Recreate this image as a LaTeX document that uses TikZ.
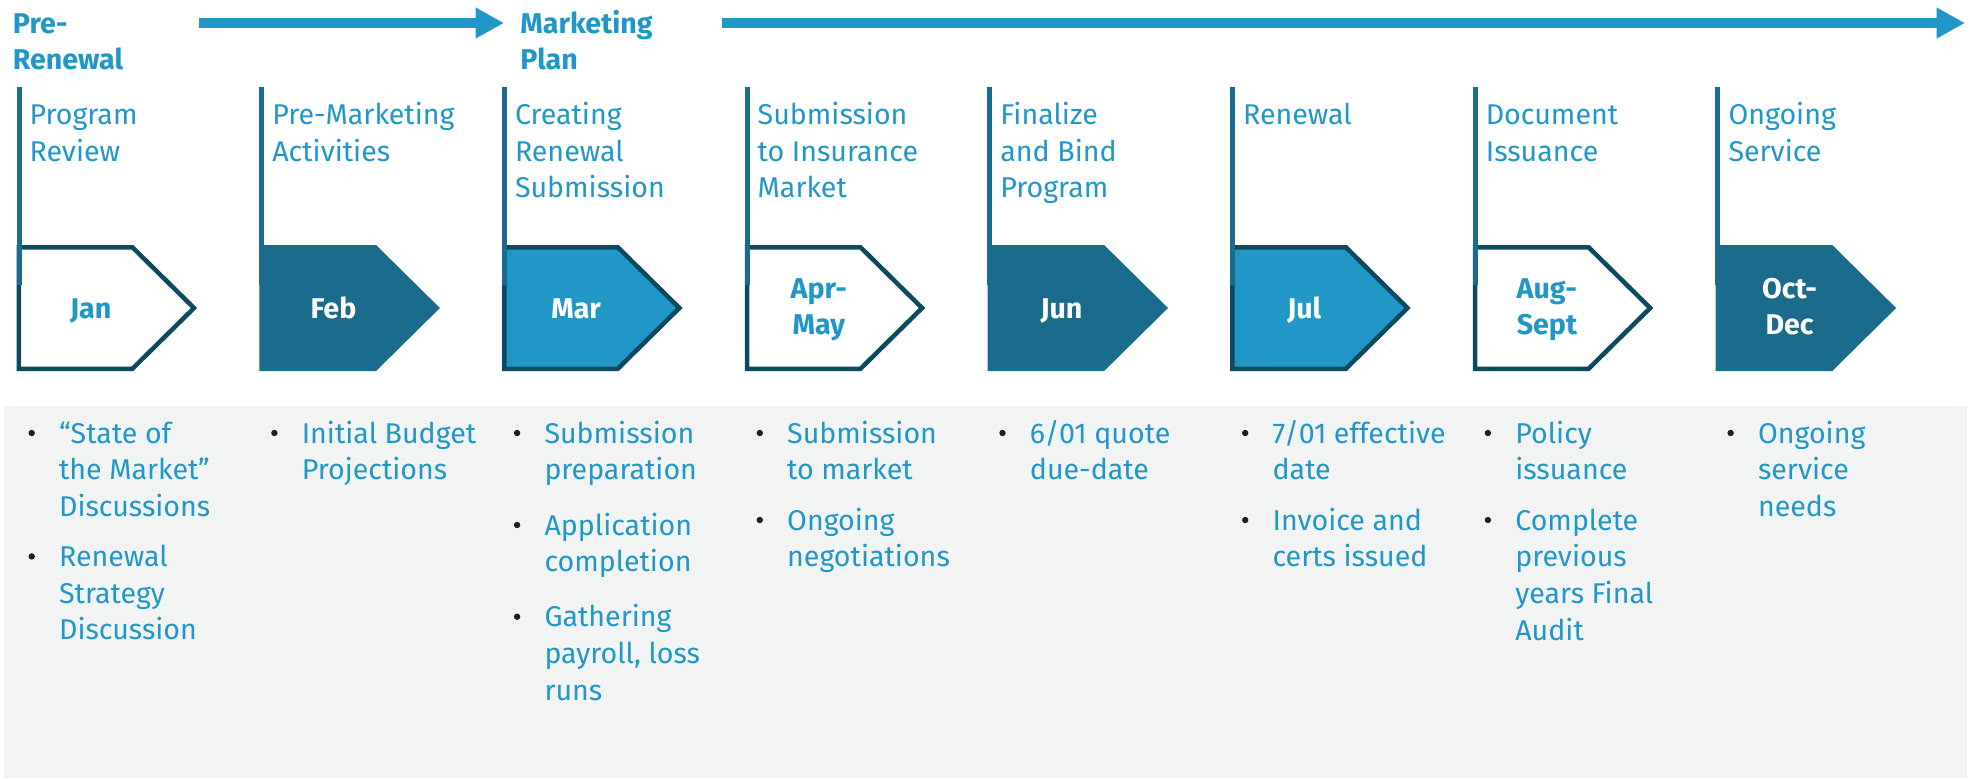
\documentclass[tikz,border=0pt]{standalone}
\usepackage{fontspec}
\setmainfont{Fira Sans}
\usetikzlibrary{arrows.meta}
\definecolor{lblue}{RGB}{32,151,199}
\definecolor{mteal}{RGB}{26,107,140}
\definecolor{dborder}{RGB}{14,74,95}
\definecolor{panelc}{RGB}{242,244,243}
\definecolor{bulc}{RGB}{30,30,30}
\newcommand\fs{\fontsize{14.3}{18.35}\selectfont}
\begin{document}
\begin{tikzpicture}[x=0.5pt,y=-0.5pt,
  txt/.style={inner sep=0pt, anchor=base west, text=lblue, font=\fs},
  head/.style={txt, font=\fs\bfseries},
  mon/.style={inner sep=0pt, anchor=base, font=\fs\bfseries},
  bul/.style={circle, fill=bulc, inner sep=0pt, minimum size=3.2pt},
  vline/.style={line width=2.5pt, draw=mteal},
  arr/.style={line width=4.75pt, draw=lblue, -{Triangle[length=14.2pt,width=14.5pt]}},
  pent/.style={line width=2.25pt, miter limit=10},
  outl/.style={pent, draw=dborder, fill=white},
  dark/.style={pent, draw=mteal, fill=mteal},
  lite/.style={pent, draw=dborder, fill=lblue}]
\useasboundingbox (0,0) rectangle (1976,778);
% panel
\fill[panelc] (4,406) rectangle (1967,778);
% top arrows
\coordinate (a1s) at (199,23);
\coordinate (a1e) at (504,23);
\coordinate (a2s) at (722,23);
\coordinate (a2e) at (1965,23);
\draw[arr] (a1s) -- (a1e);
\draw[arr] (a2s) -- (a2e);
\node[head] (pre) at (12.5,33) {\parbox[t]{100pt}{Pre-\\Renewal}};
\node[head] (mkt) at (520,33) {\parbox[t]{100pt}{Marketing\\Plan}};
% boxes
\foreach \i/\st in {0/outl,1/dark,2/lite,3/outl,4/dark,5/lite,6/outl,7/dark}{
  \pgfmathsetmacro\L{16.7+242.7*\i}
  \draw[\st] (\L+2.25,247.25) -- (\L+115.7,247.25) -- (\L+177.3,308)
     -- (\L+115.7,368.75) -- (\L+2.25,368.75) -- cycle;
  \draw[vline] (\L+2.3,87.3) -- (\L+2.3,285);
}
% titles
\node[txt] (t1) at (29.2,124.3) {\parbox[t]{200pt}{Program\\Review}};
\node[txt] (t2) at (271.9,124.3) {\parbox[t]{200pt}{Pre-Marketing\\Activities}};
\node[txt] (t3) at (514.6,124.3) {\parbox[t]{200pt}{Creating\\Renewal\\Submission}};
\node[txt] (t4) at (757.3,124.3) {\parbox[t]{200pt}{Submission\\to Insurance\\Market}};
\node[txt] (t5) at (1000,124.3) {\parbox[t]{200pt}{Finalize\\and Bind\\Program}};
\node[txt] (t6) at (1242.7,124.3) {\parbox[t]{200pt}{Renewal}};
\node[txt] (t7) at (1485.4,124.3) {\parbox[t]{200pt}{Document\\Issuance}};
\node[txt] (t8) at (1728.1,124.3) {\parbox[t]{200pt}{Ongoing\\Service}};
% months
\node[mon, text=lblue] (m1) at (90.7,318) {Jan};
\node[mon, text=white] (m2) at (333.4,318) {Feb};
\node[mon, text=white] (m3) at (576.1,318) {Mar};
\node[mon, text=lblue] (m4) at (818.8,298) {\parbox[t]{60pt}{\centering Apr-\\May}};
\node[mon, text=white] (m5) at (1061.5,318) {Jun};
\node[mon, text=white] (m6) at (1304.2,318) {Jul};
\node[mon, text=lblue] (m7) at (1546.9,298) {\parbox[t]{60pt}{\centering Aug-\\Sept}};
\node[mon, text=white] (m8) at (1789.6,298) {\parbox[t]{60pt}{\centering Oct-\\Dec}};
% bullets column 1
\node[bul] (b1a) at (31.7,433) {};
\node[txt] (i1a) at (58.7,443) {\parbox[t]{200pt}{“State of\\the Market”\\Discussions}};
\node[bul] (b1b) at (31.7,556.4) {};
\node[txt] (i1b) at (58.7,566.4) {\parbox[t]{200pt}{Renewal\\Strategy\\Discussion}};
% column 2
\node[bul] (b2a) at (274.4,433) {};
\node[txt] (i2a) at (301.4,443) {\parbox[t]{200pt}{Initial Budget\\Projections}};
% column 3
\node[bul] (b3a) at (517.1,433) {};
\node[txt] (i3a) at (544.1,443) {\parbox[t]{200pt}{Submission\\preparation}};
\node[bul] (b3b) at (517.1,525) {};
\node[txt] (i3b) at (544.1,535) {\parbox[t]{200pt}{Application\\completion}};
\node[bul] (b3c) at (517.1,616.7) {};
\node[txt] (i3c) at (544.1,626.7) {\parbox[t]{200pt}{Gathering\\payroll, loss\\runs}};
% column 4
\node[bul] (b4a) at (759.8,433) {};
\node[txt] (i4a) at (786.8,443) {\parbox[t]{200pt}{Submission\\to market}};
\node[bul] (b4b) at (759.8,520) {};
\node[txt] (i4b) at (786.8,530) {\parbox[t]{200pt}{Ongoing\\negotiations}};
% column 5
\node[bul] (b5a) at (1002.5,433) {};
\node[txt] (i5a) at (1029.5,443) {\parbox[t]{200pt}{6/01 quote\\due-date}};
% column 6
\node[bul] (b6a) at (1245.2,433) {};
\node[txt] (i6a) at (1272.2,443) {\parbox[t]{200pt}{7/01 effective\\date}};
\node[bul] (b6b) at (1245.2,520) {};
\node[txt] (i6b) at (1272.2,530) {\parbox[t]{200pt}{Invoice and\\certs issued}};
% column 7
\node[bul] (b7a) at (1487.9,433) {};
\node[txt] (i7a) at (1514.9,443) {\parbox[t]{200pt}{Policy\\issuance}};
\node[bul] (b7b) at (1487.9,520) {};
\node[txt] (i7b) at (1514.9,530) {\parbox[t]{200pt}{Complete\\previous\\years Final\\Audit}};
% column 8
\node[bul] (b8a) at (1730.6,433) {};
\node[txt] (i8a) at (1757.6,443) {\parbox[t]{200pt}{Ongoing\\service\\needs}};
\end{tikzpicture}
\end{document}
